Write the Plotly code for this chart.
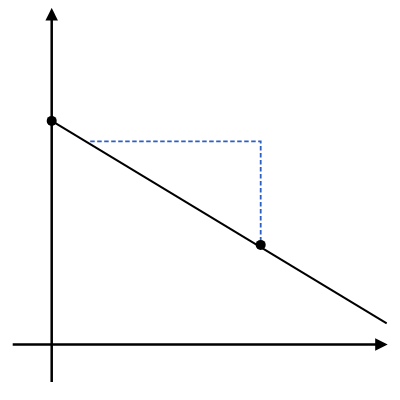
import plotly.graph_objects as go

# Data (units: arbitrary)
line_x = [0.0, 6.70]
line_y = [4.47, 0.42]
point_x = [0.0, 4.18]
point_y = [4.47, 1.99]
dash_x = [0.77, 4.18, 4.18]
dash_y = [4.06, 4.06, 1.99]
yaxis_seg = {"x": [0.0, 0.0], "y": [-0.78, 6.73]}
xaxis_seg = {"x": [-0.81, 6.72], "y": [0.0, 0.0]}

fig = go.Figure()

fig.add_trace(go.Scatter(x=dash_x, y=dash_y, mode="lines",
                         line=dict(color="#2a5fc4", width=1.8, dash="4.5px,2.5px"),
                         hoverinfo="skip", showlegend=False))
fig.add_trace(go.Scatter(x=line_x, y=line_y, mode="lines",
                         line=dict(color="black", width=2),
                         hoverinfo="skip", showlegend=False, cliponaxis=False))
fig.add_trace(go.Scatter(x=point_x, y=point_y, mode="markers",
                         marker=dict(color="black", size=10),
                         hoverinfo="skip", showlegend=False))

for seg in (yaxis_seg, xaxis_seg):
    fig.add_annotation(x=seg["x"][1], y=seg["y"][1], ax=seg["x"][0], ay=seg["y"][0],
                       xref="x", yref="y", axref="x", ayref="y",
                       text="", showarrow=True, arrowhead=2, arrowsize=1.0,
                       arrowwidth=2.5, arrowcolor="black", standoff=0, startstandoff=0)

fig.update_layout(
    width=392, height=392,
    margin=dict(l=0, r=0, t=0, b=0),
    paper_bgcolor="white", plot_bgcolor="white",
    xaxis=dict(range=[-0.874, 6.966], visible=False, fixedrange=True),
    yaxis=dict(range=[-1.112, 6.728], visible=False, fixedrange=True),
)

fig.write_html("out.html")
